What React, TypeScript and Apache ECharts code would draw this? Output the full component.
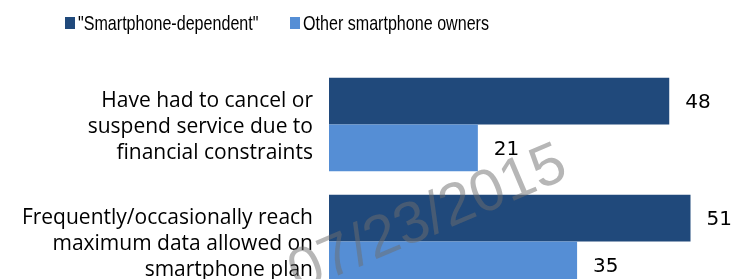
import React, { useEffect, useRef } from "react";
import * as echarts from "echarts";

const categories = [
  "Have had to cancel or\nsuspend service due to\nfinancial constraints",
  "Frequently/occasionally reach\nmaximum data allowed on\nsmartphone plan",
];
const seriesNames = ['"Smartphone-dependent"', "Other smartphone owners"];
const seriesColors = ["#20497B", "#558ED5"];
const dependentValues = [48, 51];
const otherValues = [21, 35];
const watermark = "07/23/2015";

export default function App() {
  const ref = useRef<HTMLDivElement>(null);
  useEffect(() => {
    if (!ref.current) return;
    const chart = echarts.init(ref.current, undefined, { renderer: "svg" });
    const labelStyle = {
      show: true,
      position: "right" as const,
      distance: 16,
      fontSize: 20,
      color: "#000",
      fontFamily: "DejaVu Sans, sans-serif",
    };
    const legendX = [65, 290];
    const legendGraphics: any[] = [];
    seriesNames.forEach((name, i) => {
      legendGraphics.push({
        type: "rect",
        shape: { x: legendX[i], y: 17, width: 10, height: 12 },
        style: { fill: seriesColors[i] },
      });
      legendGraphics.push({
        type: "text",
        x: legendX[i] + 13,
        y: 23,
        scaleX: 0.805,
        style: {
          text: name,
          fontSize: 20,
          fill: "#000",
          fontFamily: "Liberation Sans, Arial, sans-serif",
          textVerticalAlign: "middle",
        },
      });
    });
    chart.setOption({
      animation: false,
      grid: { left: 329, top: 66, right: 0, bottom: 0, containLabel: false },
      xAxis: { type: "value", min: 0, max: 57.7, show: false },
      yAxis: {
        type: "category",
        data: categories,
        inverse: true,
        axisLine: { show: false },
        axisTick: { show: false },
        axisLabel: {
          margin: 16,
          fontSize: 21,
          lineHeight: 26,
          color: "#000",
          align: "right",
          fontFamily: "Open Sans, sans-serif",
        },
      },
      series: [
        {
          name: seriesNames[0],
          type: "bar",
          data: dependentValues,
          barGap: "0%",
          barCategoryGap: "20%",
          itemStyle: { color: seriesColors[0] },
          label: labelStyle,
        },
        {
          name: seriesNames[1],
          type: "bar",
          data: otherValues,
          barGap: "0%",
          barCategoryGap: "20%",
          itemStyle: { color: seriesColors[1] },
          label: labelStyle,
        },
      ],
      graphic: [
        ...legendGraphics,
        {
          type: "text",
          x: 302,
          y: 301,
          rotation: (23 * Math.PI) / 180,
          z: 100,
          style: {
            text: watermark,
            fontSize: 59,
            fontFamily: "Liberation Sans, Arial, sans-serif",
            fill: "rgba(110,110,110,0.5)",
            textVerticalAlign: "bottom",
          },
        },
      ],
    });
    return () => chart.dispose();
  }, []);
  return (
    <div
      ref={ref}
      style={{ position: "fixed", left: 0, top: 0, width: 738, height: 300 }}
    />
  );
}
